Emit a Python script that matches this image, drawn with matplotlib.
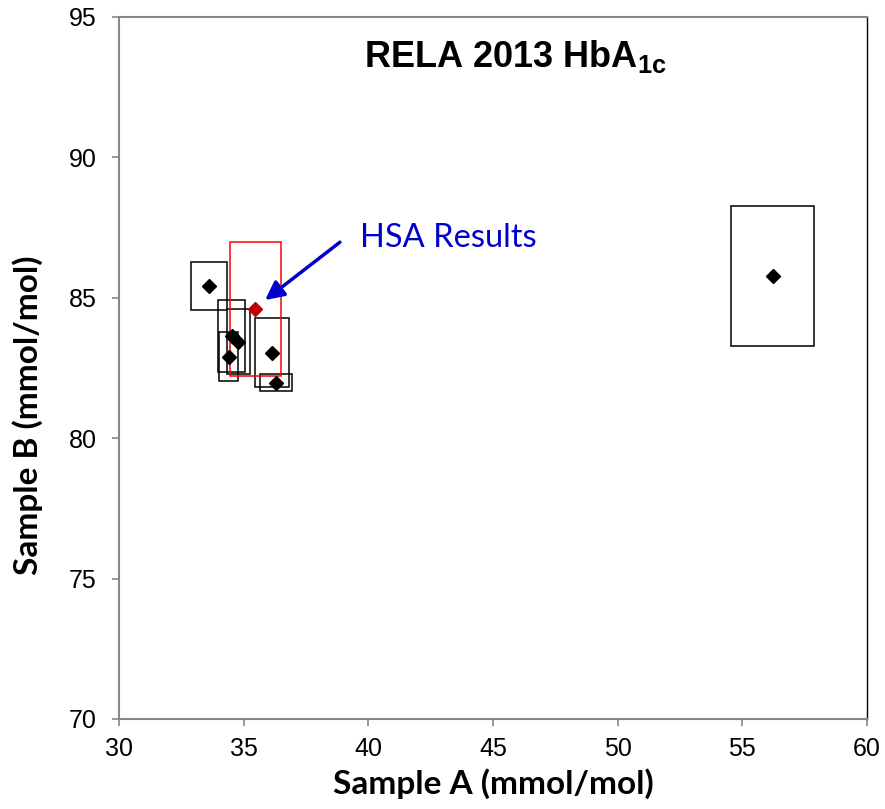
import matplotlib.pyplot as plt
from matplotlib.patches import Rectangle

plt.rcParams['font.family'] = 'Liberation Sans'
plt.rcParams['xtick.labelsize'] = 18
plt.rcParams['ytick.labelsize'] = 18
plt.rcParams['mathtext.fontset'] = 'custom'
plt.rcParams['mathtext.rm'] = 'Liberation Sans'
plt.rcParams['mathtext.bf'] = 'Liberation Sans:bold'

# participant labs: centre values and half-widths of the boxes
sample_a = [33.62, 34.52, 34.79, 34.41, 36.13, 36.30, 56.21]
sample_b = [85.42, 83.64, 83.44, 82.90, 83.04, 81.98, 85.78]
half_a = [0.73, 0.54, 0.45, 0.38, 0.67, 0.63, 1.66]
half_b = [0.84, 1.28, 1.16, 0.87, 1.23, 0.31, 2.48]

# HSA result
hsa_a = 35.46
hsa_b = 84.60
hsa_half_a = 1.02
hsa_half_b = 2.38

fig = plt.figure(figsize=(8.85, 8.09), dpi=100)
ax = fig.add_axes([119 / 885, 90 / 809, 748 / 885, 702 / 809])

for x, y, dx, dy in zip(sample_a, sample_b, half_a, half_b):
    ax.add_patch(Rectangle((x - dx, y - dy), 2 * dx, 2 * dy, fill=False,
                           edgecolor='black', linewidth=1.1, zorder=2))
ax.plot(sample_a, sample_b, 'D', color='black', markersize=7.5, zorder=4)

ax.add_patch(Rectangle((hsa_a - hsa_half_a, hsa_b - hsa_half_b), 2 * hsa_half_a,
                       2 * hsa_half_b, fill=False, edgecolor='#FF0000',
                       linewidth=1.1, zorder=3))
ax.plot([hsa_a], [hsa_b], 'D', color='#C00000', markersize=7.5, zorder=5)

ax.annotate('', xy=(35.86, 84.92), xytext=(38.86, 86.98),
            arrowprops=dict(arrowstyle='-|>', color='#0000CC', lw=2.5,
                            mutation_scale=28, shrinkA=0, shrinkB=0))
ax.text(39.67, 86.82, 'HSA Results', color='#0000CC', fontsize=23.5,
        family='Lato', ha='left', va='baseline')

ax.text(45.9, 93.23, r'RELA 2013 HbA$_{\mathbf{1c}}$', fontsize=26,
        fontweight='bold', ha='center', va='baseline')

ax.set_xlim(30, 60)
ax.set_ylim(70, 95)
ax.set_xticks(range(30, 61, 5))
ax.set_yticks(range(70, 96, 5))
ax.tick_params(direction='out', length=5, width=1.2, color='#868686')
ax.tick_params(axis='x', pad=8)
ax.tick_params(axis='y', pad=11)

for side in ['left', 'bottom', 'top']:
    ax.spines[side].set_color('#868686')
    ax.spines[side].set_linewidth(1.5)
ax.spines['right'].set_color('black')
ax.spines['right'].set_linewidth(1.0)

ax.set_xlabel('Sample A (mmol/mol)', fontsize=24, fontweight='bold',
              family='Lato', labelpad=5)
ax.set_ylabel('Sample B (mmol/mol)', fontsize=24, fontweight='bold',
              family='Lato')
ax.yaxis.set_label_coords(-0.102, 0.432)

fig.savefig('out.png', dpi=100)
